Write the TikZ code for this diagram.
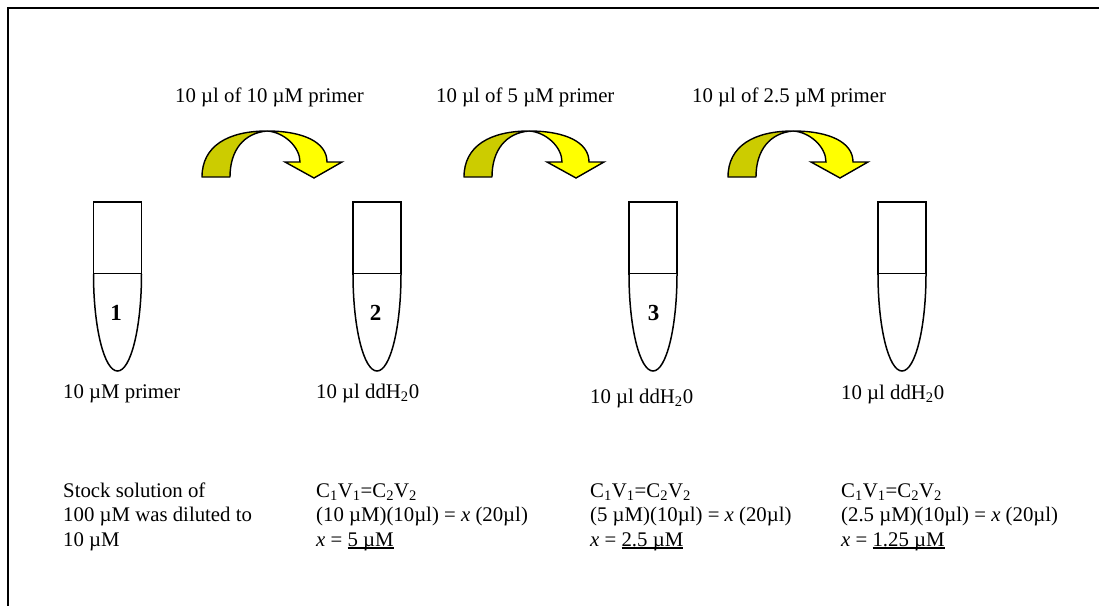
\documentclass[tikz,border=0pt]{standalone}
\usepackage{fontspec}
\setmainfont{Liberation Serif}
\newcommand\myul[1]{\setbox0\hbox{#1}\rlap{\rule[-2.8pt]{\wd0}{1.5pt}}\box0}
\definecolor{olive}{HTML}{CCCC00}
\definecolor{brightyellow}{HTML}{FFFF00}
\begin{document}
\begin{tikzpicture}[x=1pt,y=-1pt,
  font=\fontsize{20.8}{25}\selectfont,
  lbl/.style={anchor=base west, inner sep=0pt},
  num/.style={inner sep=0pt, font=\fontsize{23}{27}\selectfont\bfseries},
  tube/.style={draw, line width=1.5pt, fill=white},
  arrback/.style={draw, line width=1.4pt, fill=olive, line join=round},
  arrfront/.style={draw, line width=1.4pt, fill=brightyellow, line join=miter}]
\useasboundingbox (0,0) rectangle (1099,605);
\draw[line width=2.6pt] (8,612) -- (8,8) -- (1106,8);

% tubes
\foreach \c in {117.5,377,653,902}{
  \draw[tube] (\c-24,274) -- (\c-24,202) -- (\c+24,202) -- (\c+24,274) -- cycle;
  \draw[tube] (\c-24,274) .. controls (\c-24,327.6) and (\c-13.3,371) .. (\c,371)
     .. controls (\c+13.3,371) and (\c+24,327.6) .. (\c+24,274);
}
\node[num] (n1) at (116,313) {1};
\node[num] (n2) at (375.5,313) {2};
\node[num] (n3) at (653.5,313) {3};

% curved arrows
\foreach \dx in {0,262,526}{
\begin{scope}[xshift=\dx pt]
  \draw[arrfront] (267,131) .. controls (303,131) and (327,142) .. (327,162)
     -- (342,162) -- (314,178) -- (285,162) -- (300,162)
     .. controls (300,147) and (284,132) .. (267,131) -- cycle;
  \draw[arrback] (202,177) .. controls (202,146) and (228,131) .. (267,131)
     .. controls (244,133) and (230,150) .. (230,177) -- cycle;
\end{scope}
}

% top labels
\node[lbl] (t1) at (175,102) {10 µl of 10 µM primer};
\node[lbl] (t2) at (436,102) {10 µl of 5 µM primer};
\node[lbl] (t3) at (692,102) {10 µl of 2.5 µM primer};

% tube labels
\node[lbl] (l1) at (63,398) {10 µM primer};
\node[lbl] (l2) at (316,398) {10 µl ddH\textsubscript{2}0};
\node[lbl] (l3) at (590,403) {10 µl ddH\textsubscript{2}0};
\node[lbl] (l4) at (841,399) {10 µl ddH\textsubscript{2}0};

% bottom text
\node[lbl] (s1) at (63,497) {Stock solution of};
\node[lbl] (s2) at (63,521.5) {100 µM was diluted to};
\node[lbl] (s3) at (63,546) {10 µM};

\node[lbl] (a1) at (316,497) {C\textsubscript{1}V\textsubscript{1}=C\textsubscript{2}V\textsubscript{2}};
\node[lbl] (a2) at (316,521.5) {(10 µM)(10µl) = \textit{x} (20µl)};
\node[lbl] (a3) at (316,546) {\textit{x} = \myul{5 µM}};

\node[lbl] (b1) at (590,497) {C\textsubscript{1}V\textsubscript{1}=C\textsubscript{2}V\textsubscript{2}};
\node[lbl] (b2) at (590,521.5) {(5 µM)(10µl) = \textit{x} (20µl)};
\node[lbl] (b3) at (590,546) {\textit{x} = \myul{2.5 µM}};

\node[lbl] (c1) at (841,497) {C\textsubscript{1}V\textsubscript{1}=C\textsubscript{2}V\textsubscript{2}};
\node[lbl] (c2) at (841,521.5) {(2.5 µM)(10µl) = \textit{x} (20µl)};
\node[lbl] (c3) at (841,546) {\textit{x} = \myul{1.25 µM}};
\end{tikzpicture}
\end{document}
